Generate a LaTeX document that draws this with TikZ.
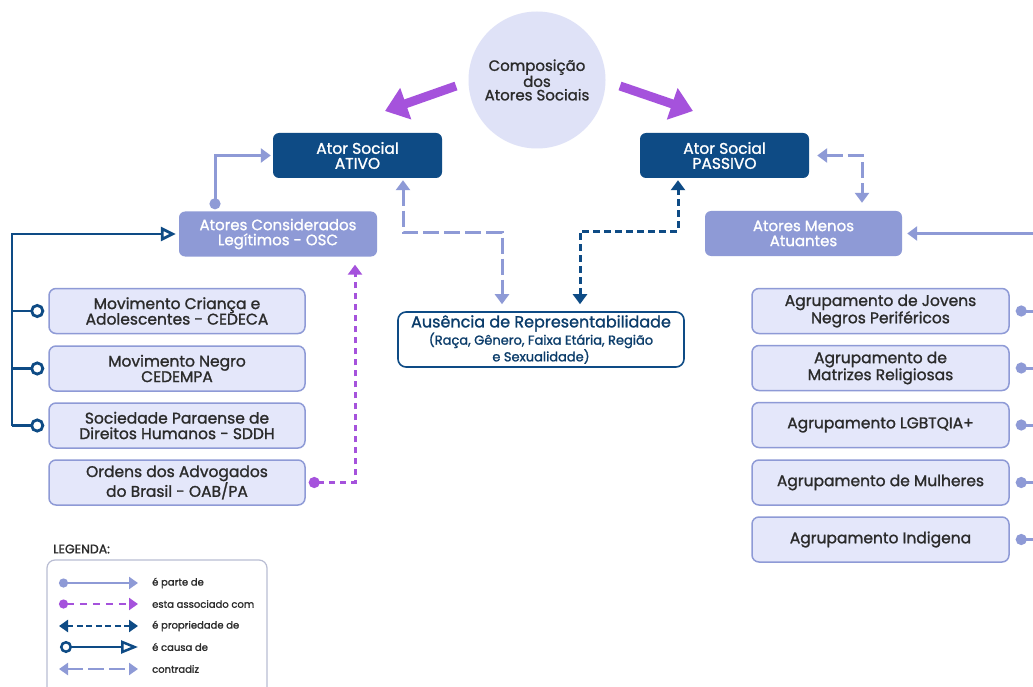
\documentclass[tikz,border=0pt]{standalone}
\usepackage{fontspec}
\setmainfont{Poppins}[UprightFeatures={FakeBold=1.3}]
\usetikzlibrary{arrows.meta,calc}
\definecolor{lav}{HTML}{8E9AD6}
\definecolor{dblue}{HTML}{0E4B85}
\definecolor{purp}{HTML}{A552DC}
\definecolor{lightfill}{HTML}{E4E7FA}
\definecolor{circfill}{HTML}{DFE2F7}
\definecolor{txt}{HTML}{2B2B2B}
\definecolor{legborder}{HTML}{B9BDD3}
\tikzset{
  darkbox/.style={rectangle, rounded corners=6pt, fill=dblue, text=white, minimum width=169pt, minimum height=45pt, align=center, inner sep=0pt, font=\fontsize{15.5}{15}\selectfont},
  midbox/.style={rectangle, rounded corners=6pt, fill=lav, text=white, minimum width=198pt, minimum height=45pt, align=center, inner sep=0pt, font=\fontsize{15}{15}\selectfont},
  itembox/.style={rectangle, rounded corners=7pt, fill=lightfill, draw=lav, line width=1.5pt, text=txt, minimum width=256pt, minimum height=45pt, align=center, inner sep=0pt, font=\fontsize{15.5}{15.5}\selectfont},
  partof/.style={draw=lav, line width=3pt, arrows={Circle[length=11pt]-Triangle[length=10pt,width=14pt]}},
  dotline/.style={draw=lav, line width=3pt, arrows={Circle[length=11pt]-}},
  plainarrow/.style={draw=lav, line width=3pt, arrows={-Triangle[length=10pt,width=14pt]}},
  contra/.style={draw=lav, line width=3pt, dash pattern=on 16pt off 5pt, arrows={Triangle[length=10pt,width=14pt]-Triangle[length=10pt,width=14pt]}},
  prop/.style={draw=dblue, line width=3pt, dash pattern=on 7pt off 4pt, arrows={Triangle[length=10pt,width=14pt]-Triangle[length=10pt,width=14pt]}},
  assoc/.style={draw=purp, line width=3pt, dash pattern=on 6pt off 5pt, arrows={Circle[length=11pt]-Triangle[length=10pt,width=14pt]}},
  causa/.style={draw=dblue, line width=2.8pt},
  bigarrow/.style={draw=purp, line width=9pt, arrows={-Triangle[length=22pt,width=32pt]}},
  legtxt/.style={anchor=west, text=txt, inner sep=0pt, font=\fontsize{10}{10}\selectfont},
}
\begin{document}
\begin{tikzpicture}[x=1pt,y=-1pt]
\path[use as bounding box, clip] (0,0) rectangle (1033,687);
\fill[white] (0,0) rectangle (1033,687);

% central circle
\node[circle, fill=circfill, minimum size=137pt, inner sep=0pt, align=center, text=txt, font=\fontsize{15}{13.5}\selectfont] (comp) at (537,80) {Composição\\dos\\Atores Sociais};

% main boxes
\node[darkbox] (ativo) at (357.5,155.5) {Ator Social\\ATIVO};
\node[darkbox] (passivo) at (724.5,155.5) {Ator Social\\PASSIVO};
\node[midbox] (osc) at (278,234) {Atores Considerados\\Legítimos - OSC};
\node[midbox, minimum width=197pt] (menos) at (803.5,233.5) {Atores Menos\\Atuantes};

% left items
\node[itembox] (L1) at (177,311) {Movimento Criança e\\Adolescentes - CEDECA};
\node[itembox] (L2) at (177,368.5) {Movimento Negro\\CEDEMPA};
\node[itembox] (L3) at (177,425.5) {Sociedade Paraense de\\Direitos Humanos - SDDH};
\node[itembox] (L4) at (177,482.5) {Ordens dos Advogados\\do Brasil - OAB/PA};

% right items
\node[itembox, minimum width=257pt] (R1) at (880.5,311) {Agrupamento de Jovens\\Negros Periféricos};
\node[itembox, minimum width=257pt] (R2) at (880.5,368) {Agrupamento de\\Matrizes Religiosas};
\node[itembox, minimum width=257pt] (R3) at (880.5,425) {Agrupamento LGBTQIA+};
\node[itembox, minimum width=257pt] (R4) at (880.5,482.5) {Agrupamento de Mulheres};
\node[itembox, minimum width=257pt] (R5) at (880.5,539.5) {Agrupamento Indigena};

% central box
\node[rectangle, rounded corners=8pt, fill=white, draw=dblue, line width=1.6pt, minimum width=286pt, minimum height=55pt, align=center, inner sep=0pt, text=dblue!80!black, font=\fontsize{13}{10}\selectfont] (aus) at (541,339.5)
  {{\fontsize{16}{15}\selectfont Ausência de Representabilidade}\\[0pt](Raça, Gênero, Faixa Etária, Região\\e Sexualidade)};

% purple arrows from the circle
\coordinate (pa1) at (456,86);
\coordinate (pa2) at (385,111);
\coordinate (pb1) at (620,86);
\coordinate (pb2) at (693,111);
\draw[bigarrow] (pa1) -- (pa2);
\draw[bigarrow] (pb1) -- (pb2);

% OSC part of ATIVO
\draw[partof] ([xshift=-63,yshift=2]osc.north) |- ([xshift=-2]ativo.west);

% contradiz ATIVO <-> Ausencia
\draw[contra] ([xshift=45.5,yshift=-2]ativo.south) -- ++(0,52) -| ([xshift=-39,yshift=7]aus.north);

% propriedade PASSIVO <-> Ausencia
\draw[prop] ([xshift=39,yshift=7]aus.north) -- ++(0,-73) -| ([xshift=-46.5,yshift=-2]passivo.south);

% contradiz PASSIVO <-> Menos
\draw[contra] ([xshift=8]passivo.east) -| ([xshift=58.5,yshift=8]menos.north);

% right bus
\coordinate (rbus) at (1045,233.5);
\draw[plainarrow] (rbus) -- ([xshift=5]menos.east);
\foreach \r in {R1,R2,R3,R4,R5}{
  \draw[dotline] ([xshift=6]\r.east) -- (\r.east -| rbus);
}
\draw[draw=lav, line width=3pt] (rbus) -- (rbus |- R5.east);

% left causa bus
\coordinate (lbus) at (12,234);
\draw[causa, arrows={-Triangle[open, length=15pt, width=14pt]}] (lbus |- L3.west) -- (lbus) -- ([xshift=-3]osc.west);
\foreach \l in {L1,L2,L3}{
  \draw[causa, arrows={Circle[open, length=14pt]-}] ([xshift=-4]\l.west) -- (\l.west -| lbus);
}

% OAB associated with OSC
\draw[assoc] ([xshift=3]L4.east) -| ([xshift=77,yshift=-8]osc.south);

% legend
\node[anchor=west, text=txt, inner sep=0pt, font=\fontsize{12.5}{12}\selectfont] (legtitle) at (53,549) {LEGENDA:};
\draw[legborder, line width=1.2pt, rounded corners=8pt] (47,560) rectangle (267,705);
\node[legtxt] (lg1) at (152,583) {é parte de};
\node[legtxt] (lg2) at (152,604) {esta associado com};
\node[legtxt] (lg3) at (152,626) {é propriedade de};
\node[legtxt] (lg4) at (152,647) {é causa de};
\node[legtxt] (lg5) at (152,669) {contradiz};
\tikzset{legs/.style={line width=2.5pt}}
\draw[partof, legs, arrows={Circle[length=9pt]-Triangle[length=9pt,width=12pt]}] ([xshift=-93]lg1.west) -- ([xshift=-14]lg1.west);
\draw[assoc, legs, dash pattern=on 7pt off 6pt, arrows={Circle[length=9pt]-Triangle[length=9pt,width=12pt]}] ([xshift=-93]lg2.west) -- ([xshift=-14]lg2.west);
\draw[prop, legs, dash pattern=on 6pt off 3.5pt, arrows={Triangle[length=9pt,width=12pt]-Triangle[length=9pt,width=12pt]}] ([xshift=-93]lg3.west) -- ([xshift=-14]lg3.west);
\draw[causa, legs, arrows={Circle[open,length=12pt]-Triangle[open,length=17pt,width=13pt]}] ([xshift=-92]lg4.west) -- ([xshift=-14]lg4.west);
\draw[contra, legs, dash pattern=on 16pt off 5pt, arrows={Triangle[length=9pt,width=12pt]-Triangle[length=9pt,width=12pt]}] ([xshift=-93]lg5.west) -- ([xshift=-14]lg5.west);
\end{tikzpicture}
\end{document}
